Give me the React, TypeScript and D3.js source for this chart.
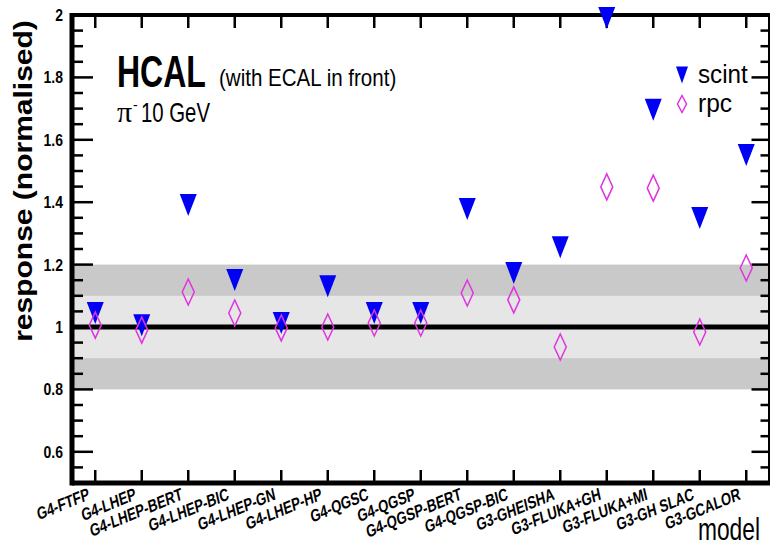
import React from "react";
import * as d3 from "d3";

const categories = [
  "G4-FTFP", "G4-LHEP", "G4-LHEP-BERT", "G4-LHEP-BIC", "G4-LHEP-GN", "G4-LHEP-HP",
  "G4-QGSC", "G4-QGSP", "G4-QGSP-BERT", "G4-QGSP-BIC", "G3-GHEISHA", "G3-FLUKA+GH",
  "G3-FLUKA+MI", "G3-GH SLAC", "G3-GCALOR",
];
const scint = [1.045, 1.006, 1.391, 1.151, 1.013, 1.131, 1.045, 1.045, 1.378, 1.173, 1.256, 1.99, 1.696, 1.349, 1.551];
const rpc = [1.006, 0.99, 1.112, 1.045, 0.997, 1.0, 1.013, 1.013, 1.109, 1.087, 0.936, 1.449, 1.445, 0.984, 1.189];
const yMajorTicks = [0.6, 0.8, 1, 1.2, 1.4, 1.6, 1.8, 2];
const yTickLabels = ["0.6", "0.8", "1", "1.2", "1.4", "1.6", "1.8", "2"];
const innerBand = [0.9, 1.1];
const outerBand = [0.8, 1.2];

const FONT = "'Liberation Sans', Arial, Helvetica, sans-serif";
const BLUE = "#0000f5";
const MAGENTA = "#e033e0";

export default function App() {
  const left = 72;
  const right = 769.5;
  const top = 15;
  const bottom = 483;
  const x = d3.scaleBand<string>().domain(categories).range([left, right]);
  const y = d3.scaleLinear().domain([0.5, 2]).range([bottom, top]);
  const cx = (c: string) => (x(c) as number) + x.bandwidth() / 2;
  const minorTicks = d3.range(0.55, 2.0001, 0.05).map((v) => Math.round(v * 100) / 100);

  const tri = (px: number, py: number, w: number, h: number) =>
    `M${px - w / 2},${py - h / 2}L${px + w / 2},${py - h / 2}L${px},${py + h / 2}Z`;
  const dia = (px: number, py: number, w: number, h: number) =>
    `M${px},${py - h / 2}L${px + w / 2},${py}L${px},${py + h / 2}L${px - w / 2},${py}Z`;

  return (
    <svg width={770} height={548} style={{ position: "absolute", left: 0, top: 0, background: "#fff" }}>
      {/* bands */}
      <rect x={left} y={y(outerBand[1])} width={770 - left} height={y(outerBand[0]) - y(outerBand[1])} fill="#c9c9c9" />
      <rect x={left} y={y(innerBand[1])} width={770 - left} height={y(innerBand[0]) - y(innerBand[1])} fill="#e6e6e6" />
      <line x1={left} x2={770} y1={y(1)} y2={y(1)} stroke="#000" strokeWidth={5} />

      {/* y ticks left and right */}
      {minorTicks.map((v) => {
        const major = yMajorTicks.some((m) => Math.abs(m - v) < 1e-6);
        return (
          <g key={v}>
            <line x1={left} x2={left + (major ? 21 : 11)} y1={y(v)} y2={y(v)} stroke="#000" strokeWidth={2.5} />
            <line x1={right} x2={right - (major ? 18 : 9)} y1={y(v)} y2={y(v)} stroke="#000" strokeWidth={2.5} />
          </g>
        );
      })}
      {yMajorTicks.map((v, i) => (
        <text key={v} transform={`translate(63,${y(v)}) scale(1,1.2)`} dy="0.36em" textAnchor="end" fontFamily={FONT} fontWeight="bold" fontSize={14} fill="#000">
          {yTickLabels[i]}
        </text>
      ))}

      {/* x ticks */}
      {categories.map((c) => (
        <g key={c}>
          <line x1={cx(c)} x2={cx(c)} y1={bottom} y2={bottom - 13} stroke="#000" strokeWidth={2.5} />
          <line x1={cx(c)} x2={cx(c)} y1={top} y2={top + 13} stroke="#000" strokeWidth={2.5} />
        </g>
      ))}

      {/* frame */}
      <line x1={left} x2={770} y1={top} y2={top} stroke="#000" strokeWidth={4} />
      <line x1={right} x2={right} y1={top} y2={bottom} stroke="#000" strokeWidth={3} />
      <line x1={left} x2={770} y1={bottom} y2={bottom} stroke="#000" strokeWidth={5} />
      <line x1={left} x2={left} y1={top - 2} y2={bottom + 2.5} stroke="#000" strokeWidth={5} />

      {/* x labels */}
      {categories.map((c) => (
        <text key={c} transform={`translate(${cx(c) - 5},${499}) scale(1,1.35) rotate(-17)`} textAnchor="end" fontFamily={FONT} fontWeight="bold" fontSize={13} fill="#000">
          {c}
        </text>
      ))}

      {/* markers */}
      {categories.map((c, i) => (
        <path key={"s" + c} d={tri(cx(c), y(scint[i]), 17, 22)} fill={BLUE} />
      ))}
      {categories.map((c, i) => (
        <path key={"r" + c} d={dia(cx(c), y(rpc[i]), 12, 26)} fill="none" stroke={MAGENTA} strokeWidth={1.5} />
      ))}

      {/* legend */}
      <path d={tri(682, 75, 12, 17)} fill={BLUE} />
      <path d={dia(682, 104, 9, 17)} fill="none" stroke={MAGENTA} strokeWidth={1.5} />
      <text transform="translate(698,83) scale(0.97,1)" fontFamily={FONT} fontSize={25} fill="#000">scint</text>
      <text transform="translate(698,112) scale(0.98,1)" fontFamily={FONT} fontSize={25} fill="#000">rpc</text>

      {/* titles */}
      <text transform="translate(117,87) scale(0.728,1)" fontFamily={FONT} fontWeight="bold" fontSize={44} fill="#000">HCAL</text>
      <text transform="translate(219,86) scale(0.893,1)" fontFamily={FONT} fontSize={23} fill="#000">(with ECAL in front)</text>
      <text x={117} y={122} fontFamily="'Liberation Serif', 'Times New Roman', serif" fontSize={30} fill="#000">π</text>
      <text x={133} y={110} fontFamily={FONT} fontSize={14} fill="#000">-</text>
      <text transform="translate(141,122) scale(0.727,1)" fontFamily={FONT} fontSize={28} fill="#000">10 GeV</text>

      <text transform="translate(32,181) rotate(-90) scale(1.2,1)" textAnchor="middle" fontFamily={FONT} fontWeight="bold" fontSize={25} fill="#000">
        response (normalised)
      </text>
      <text transform="translate(760,540) scale(0.735,1)" textAnchor="end" fontFamily={FONT} fontSize={31} fill="#000">model</text>
    </svg>
  );
}
